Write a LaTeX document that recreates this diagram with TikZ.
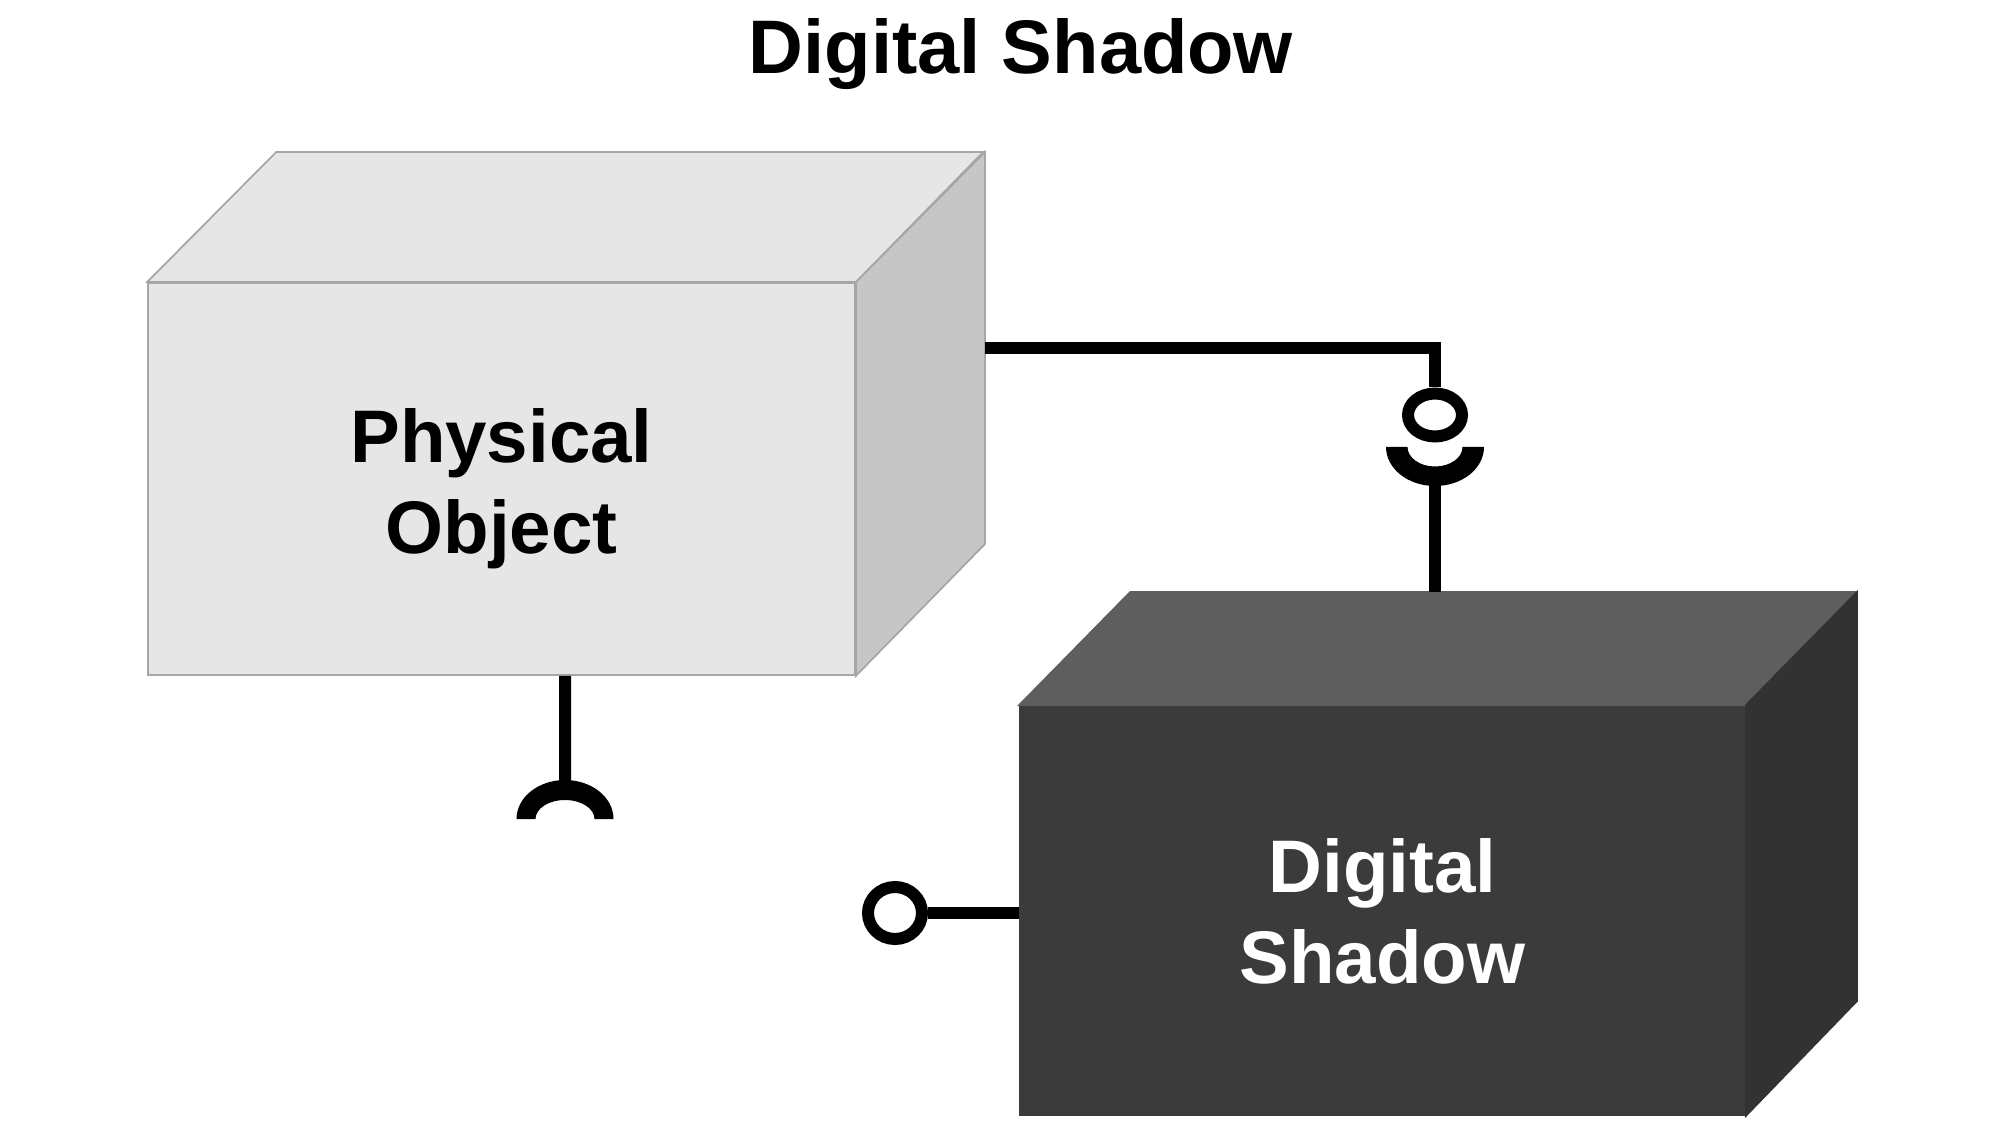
\documentclass[tikz,border=0pt]{standalone}
\usepackage{fontspec}
\setmainfont{Liberation Sans}
\usetikzlibrary{shapes, positioning, calc}

\definecolor{physlight}{HTML}{E6E6E6}
\definecolor{physside}{HTML}{C6C6C6}
\definecolor{digfront}{HTML}{3B3B3B}
\definecolor{digtopc}{HTML}{5E5E5E}
\definecolor{digside}{HTML}{323232}

\begin{document}
\begin{tikzpicture}[
            line width = 0.12cm, % connector width
            line join = miter,
            font = \bfseries,
        ]
 \tikzstyle{facestyle}=[
            draw = #1,
            line width = 0.5pt,
            inner sep = 0pt
        ]
 \tikzstyle{labelstyle}=[
            align = center,
            font = \fontsize{21.2}{25.9}\selectfont\bfseries
        ]
 \tikzstyle{ballstyle}=[
            shape = ellipse,
            draw = black,
            fill = white,
            inner sep = 0pt
        ]
\useasboundingbox (0,0) rectangle (20,11.25);

% title
\node[font=\fontsize{21.6}{26}\selectfont\bfseries, anchor=base] (title) at (10.21,10.51) {Digital Shadow};

% physical object box
\node[facestyle=gray!70, fill=physlight,
      minimum width=7.07cm, minimum height=3.92cm] (phys) at (5.015,6.46) {};
\path[facestyle=gray!70, fill=physlight]
      (phys.north west) -- ++(1.29,1.30) -- ++(7.07,0) -- (phys.north east) -- cycle;
\path[facestyle=gray!70, fill=physside]
      (phys.north east) -- ++(1.29,1.30) -- ++(0,-3.92) -- (phys.south east) -- cycle;
\node[labelstyle, text=black] (physlabel) at ([yshift=-0.1cm]phys.center) {Physical\\Object};

% digital shadow box
\node[facestyle=digfront, fill=digfront,
      minimum width=7.25cm, minimum height=4.09cm] (dig) at (13.825,2.145) {};
\path[facestyle=digtopc, fill=digtopc]
      (dig.north west) -- ++(1.11,1.13) -- ++(7.25,0) -- (dig.north east) -- cycle;
\path[facestyle=digside, fill=digside]
      (dig.north east) -- ++(1.11,1.13) -- ++(0,-4.09) -- (dig.south east) -- cycle;
\node[labelstyle, text=white] (diglabel) at ([yshift=-0.01cm]dig.center) {Digital\\Shadow};

% connector: physical object -> digital shadow (ball and socket)
\coordinate (physout) at ($(phys.north east)+(1.29,-0.655)$);
\coordinate (digtop) at ($(dig.north west)+(1.11,1.13)$);
\node[ballstyle, minimum width=0.54cm, minimum height=0.43cm] (ball1) at (14.35,7.10) {};
\coordinate (sock1) at (14.35,6.78);
\draw (physout) -| (ball1.north);
\fill ([xshift=-0.49cm]sock1) arc[start angle=180, end angle=360, x radius=0.49, y radius=0.39]
      -- ++(-0.215,0) arc[start angle=360, end angle=180, x radius=0.275, y radius=0.195] -- cycle;
\draw ([yshift=-0.29cm]sock1) -- (sock1 |- digtop);

% socket below physical object
\coordinate (physdown) at ([xshift=0.635cm]phys.south);
\coordinate (sock2) at (5.65,3.06);
\draw (physdown) -- ([yshift=0.29cm]sock2);
\fill ([xshift=0.485cm]sock2) arc[start angle=0, end angle=180, x radius=0.485, y radius=0.39]
      -- ++(0.19,0) arc[start angle=180, end angle=0, x radius=0.295, y radius=0.19] -- cycle;

% ball left of digital shadow
\node[ballstyle, minimum width=0.54cm, minimum height=0.52cm] (ball2) at (8.95,2.12) {};
\draw (ball2.east) -- (ball2.east -| dig.west);
\end{tikzpicture}
\end{document}
